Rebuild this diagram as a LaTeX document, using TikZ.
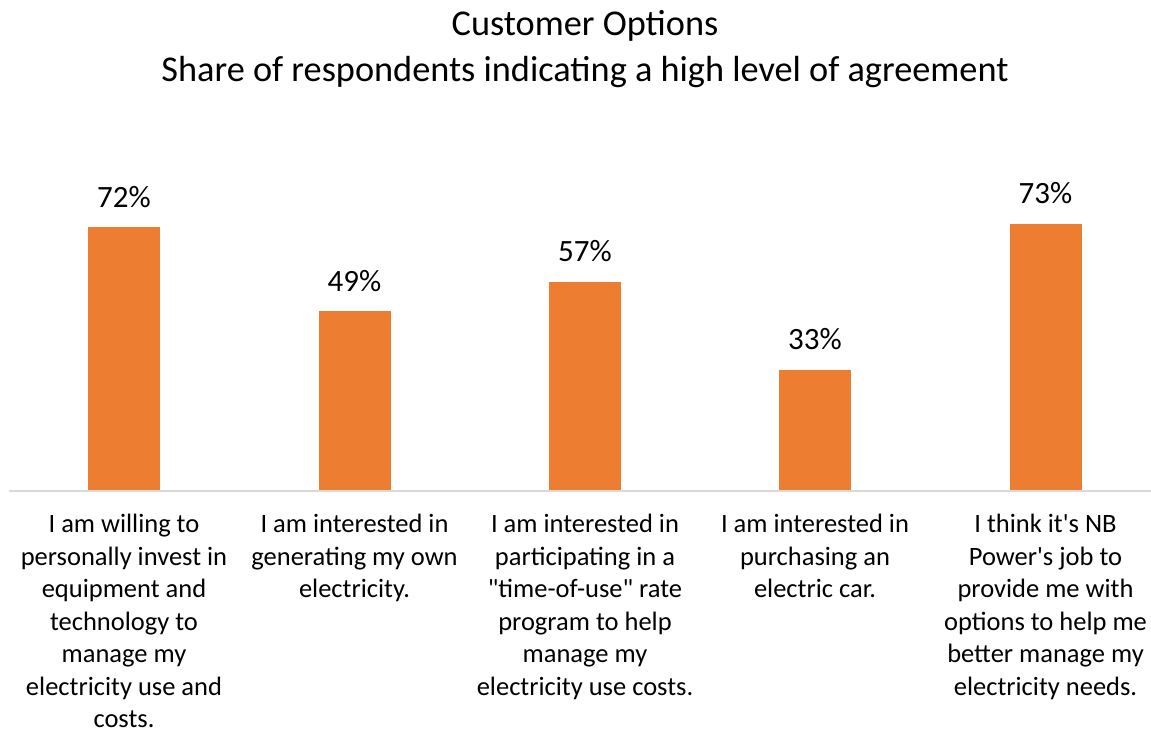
\documentclass[tikz,border=0pt]{standalone}
\usepackage{fontspec}
\setmainfont{Carlito}[Ligatures=TeXOff]
\definecolor{barc}{HTML}{ED7D31}
\definecolor{axisc}{HTML}{D9D9D9}
\begin{document}
\begin{tikzpicture}[x=1pt,y=-1pt,
  bar/.style={fill=barc,draw=none,minimum width=72pt,inner sep=0,anchor=south},
  val/.style={anchor=base,font=\fontsize{31}{37}\selectfont,inner sep=0},
  cat/.style={anchor=north,align=center,font=\fontsize{26.5}{32.5}\selectfont,inner sep=0},
  ttl/.style={anchor=base,font=\fontsize{36.3}{44}\selectfont,inner sep=0}]
\useasboundingbox (0,0) rectangle (1151,732);
\node[ttl] (t1) at (585,35) {Customer Options};
\node[ttl] (t2) at (585,81) {Share of respondents indicating a high level of agreement};
\coordinate (axL) at (9,491);
\coordinate (axR) at (1151,491);
\draw[axisc,line width=1.5pt] (axL) -- (axR);
\node[bar,minimum height=263pt] (b1) at (124,490.5) {};
\node[bar,minimum height=179pt] (b2) at (354.5,490.5) {};
\node[bar,minimum height=208.2pt] (b3) at (585,490.5) {};
\node[bar,minimum height=120.5pt] (b4) at (815,490.5) {};
\node[bar,minimum height=266.7pt] (b5) at (1045.5,490.5) {};
\node[val] (v1) at ([yshift=20pt]b1.north) {72\%};
\node[val] (v2) at ([yshift=20pt]b2.north) {49\%};
\node[val] (v3) at ([yshift=20pt]b3.north) {57\%};
\node[val] (v4) at ([yshift=20pt]b4.north) {33\%};
\node[val] (v5) at ([yshift=20pt]b5.north) {73\%};
\node[cat] (c1) at (124,514) {I am willing to\\personally invest in\\equipment and\\technology to\\manage my\\electricity use and\\costs.};
\node[cat] (c2) at (354.5,514) {I am interested in\\generating my own\\electricity.};
\node[cat] (c3) at (585,514) {I am interested in\\participating in a\\"time-of-use" rate\\program to help\\manage my\\electricity use costs.};
\node[cat] (c4) at (815,514) {I am interested in\\purchasing an\\electric car.};
\node[cat] (c5) at (1045.5,514) {I think it's NB\\Power's job to\\provide me with\\options to help me\\better manage my\\electricity needs.};
\end{tikzpicture}
\end{document}
